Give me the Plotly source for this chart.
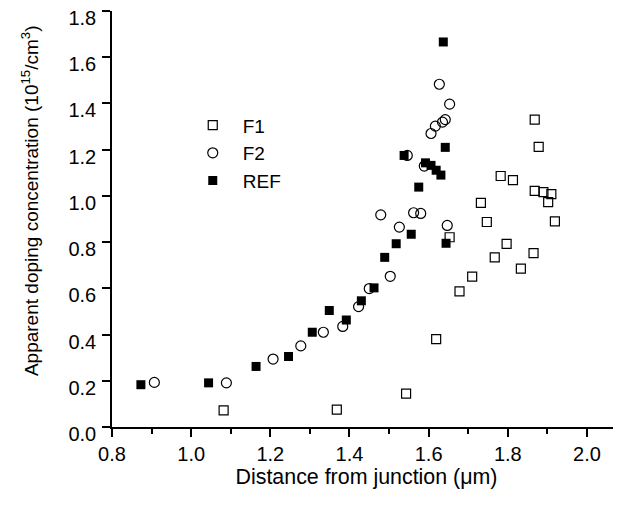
import plotly.graph_objects as go

# REF (filled squares)
ref_x = [0.873, 1.044, 1.164, 1.246, 1.306, 1.349, 1.392, 1.430, 1.462, 1.489, 1.518,
         1.556, 1.575, 1.538, 1.592, 1.606, 1.619, 1.631, 1.642, 1.637, 1.644]
ref_y = [0.183, 0.191, 0.262, 0.305, 0.410, 0.504, 0.463, 0.546, 0.602, 0.734, 0.793,
         0.834, 1.038, 1.175, 1.143, 1.132, 1.111, 1.090, 1.210, 1.666, 0.795]

# F2 (open circles)
f2_x = [0.907, 1.089, 1.207, 1.277, 1.334, 1.383, 1.423, 1.450, 1.503, 1.479, 1.526,
        1.562, 1.580, 1.647, 1.546, 1.589, 1.606, 1.617, 1.635, 1.642, 1.653, 1.627]
f2_y = [0.193, 0.191, 0.294, 0.351, 0.410, 0.435, 0.521, 0.599, 0.652, 0.918, 0.865,
        0.927, 0.924, 0.872, 1.175, 1.129, 1.270, 1.302, 1.319, 1.330, 1.397, 1.483]

# F1 (open squares)
f1_x = [1.082, 1.368, 1.543, 1.619, 1.653, 1.678, 1.710, 1.732, 1.747, 1.767, 1.782,
        1.797, 1.813, 1.833, 1.865, 1.868, 1.868, 1.878, 1.890, 1.910, 1.902, 1.919]
f1_y = [0.072, 0.075, 0.144, 0.380, 0.821, 0.587, 0.651, 0.970, 0.887, 0.734, 1.086,
        0.792, 1.068, 0.685, 0.752, 1.022, 1.330, 1.212, 1.016, 1.008, 0.973, 0.890]

x_ticks = [0.8, 1.0, 1.2, 1.4, 1.6, 1.8, 2.0]
x_minor = [0.9, 1.1, 1.3, 1.5, 1.7, 1.9, 2.1]
y_ticks = [0.0, 0.2, 0.4, 0.6, 0.8, 1.0, 1.2, 1.4, 1.6, 1.8]

x_title = "Distance from junction (μm)"
y_title = "Apparent doping concentration (10<sup>15</sup>/cm<sup>3</sup>)"

FONT = "Arial, Liberation Sans, sans-serif"

fig = go.Figure()
fig.add_trace(go.Scatter(
    x=f1_x, y=f1_y, mode="markers", name="F1",
    marker=dict(symbol="square-open", size=9, color="black", line=dict(width=1.2, color="black")),
))
fig.add_trace(go.Scatter(
    x=f2_x, y=f2_y, mode="markers", name="F2",
    marker=dict(symbol="circle-open", size=10, color="black", line=dict(width=1.2, color="black")),
))
fig.add_trace(go.Scatter(
    x=ref_x, y=ref_y, mode="markers", name="REF",
    marker=dict(symbol="square", size=9, color="black", line=dict(width=0)),
))

# the page adds an 8px body margin, so the figure is offset by (8, 8)
fig.update_layout(
    width=621, height=509,
    margin=dict(l=104, r=8, t=2.6, b=89.7, autoexpand=False),
    paper_bgcolor="white", plot_bgcolor="white",
    font=dict(family=FONT, size=20, color="black"),
    showlegend=True,
    legend=dict(
        x=0.139, y=0.771,
        xanchor="left", yanchor="top",
        bgcolor="rgba(0,0,0,0)", font=dict(family=FONT, size=19),
        itemwidth=50, tracegroupgap=0,
    ),
    xaxis=dict(
        range=[0.8, 2.086], tickvals=x_ticks, ticktext=[f"{v:.1f}" for v in x_ticks],
        showgrid=False, zeroline=False, showline=True, linecolor="black", linewidth=1.5,
        ticks="outside", ticklen=8, tickwidth=1.5, tickcolor="black",
        tickfont=dict(size=20),
        minor=dict(tickvals=x_minor, ticks="outside", ticklen=5, tickwidth=1.5, tickcolor="black"),
        title=dict(text=x_title, font=dict(size=21.4), standoff=4),
    ),
    yaxis=dict(
        range=[0, 1.8], tickvals=y_ticks, ticktext=[f"{v:.1f}" for v in y_ticks],
        showgrid=False, zeroline=False, showline=True, linecolor="black", linewidth=1.5,
        ticks="outside", ticklen=8, tickwidth=1.5, tickcolor="black",
        tickfont=dict(size=20), ticklabelshift=7, ticklabelstandoff=2,
        ticklabeloverflow="allow",
    ),
    annotations=[dict(
        text=y_title, textangle=-90, showarrow=False,
        xref="paper", yref="paper", x=(22 - 104) / 509, y=1 - (193 - 2.6) / 416.7,
        xanchor="center", yanchor="middle",
        font=dict(family=FONT, size=19, color="black"),
    )],
)

fig.write_html("out.html")
